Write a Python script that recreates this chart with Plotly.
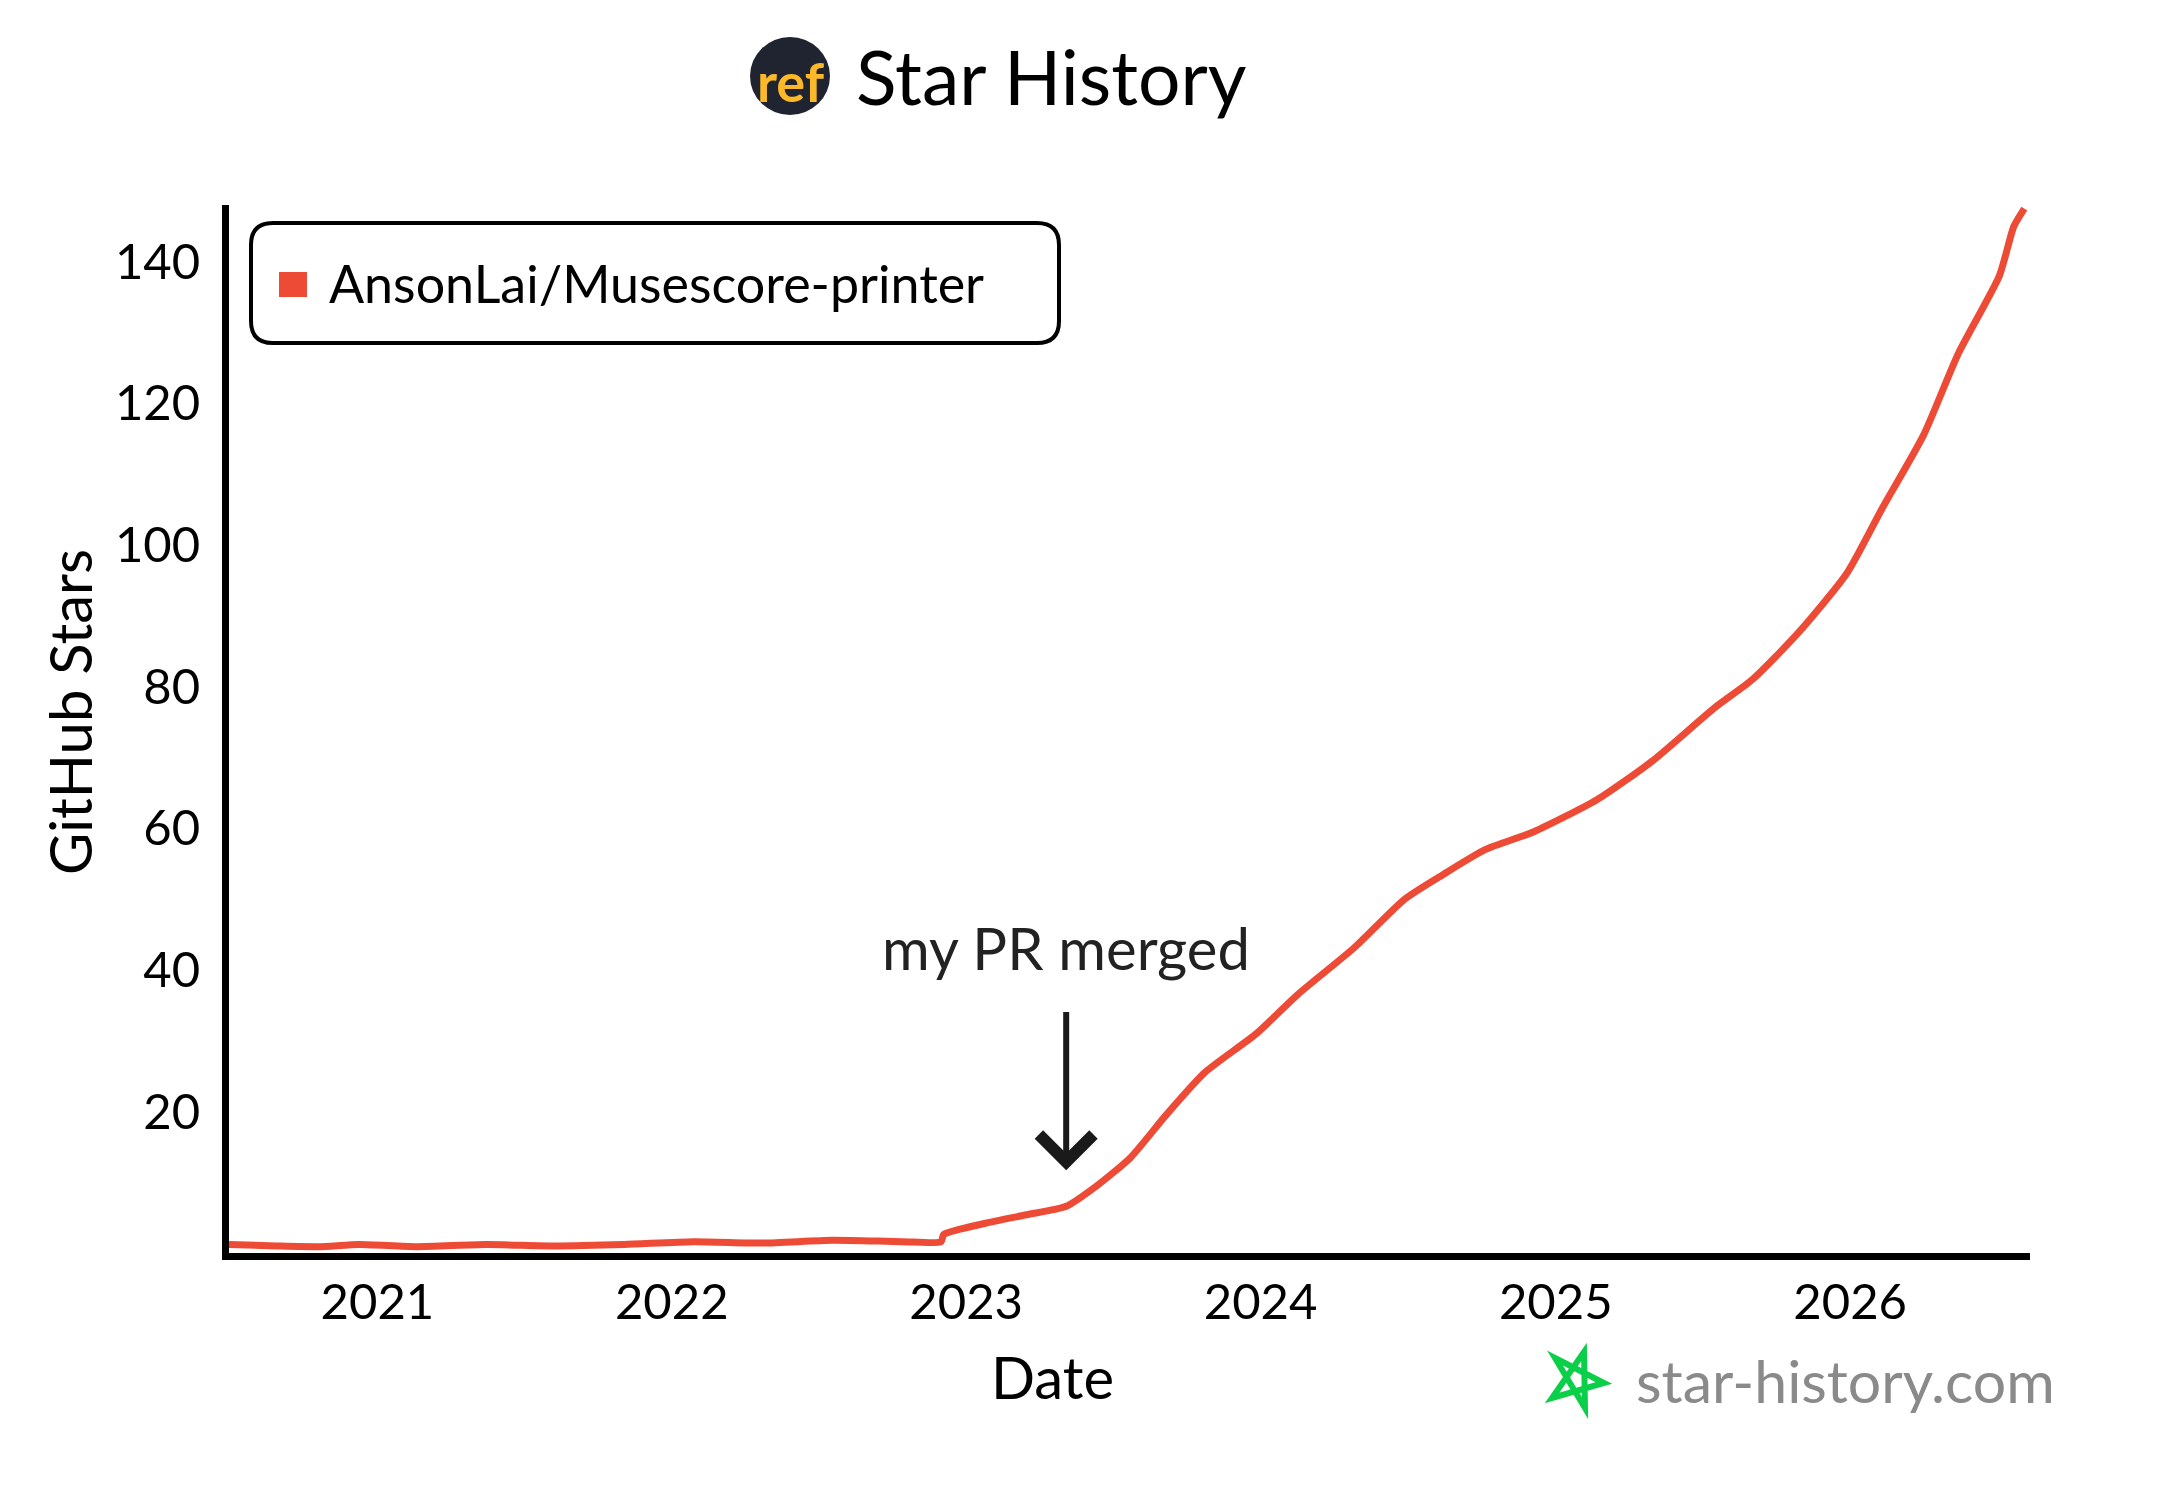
# -*- coding: utf-8 -*-
import plotly.graph_objects as go

# star history
dates = ['2020-07-01', '2020-08-29', '2020-10-20', '2020-12-10', '2021-02-18', '2021-05-15',
         '2021-08-08', '2021-11-03', '2022-01-28', '2022-04-25', '2022-07-19', '2022-10-13',
         '2022-12-01', '2022-12-04', '2023-01-25', '2023-03-17', '2023-05-05', '2023-06-12',
         '2023-07-24', '2023-09-06', '2023-10-24', '2023-12-27', '2024-02-16', '2024-04-25',
         '2024-06-28', '2024-08-15', '2024-10-06', '2024-12-05', '2025-02-21', '2025-05-01',
         '2025-07-17', '2025-09-02', '2025-10-28', '2025-12-28', '2026-02-09', '2026-04-02',
         '2026-05-15', '2026-07-05', '2026-07-23', '2026-08-05']
stars = [1.2, 1.0, 0.9, 1.2, 0.9, 1.2,
         1.0, 1.2, 1.6, 1.4, 1.8, 1.6,
         1.6, 2.6, 4.2, 5.4, 6.6, 9.5,
         13.5, 19.5, 25.5, 31, 36.5, 43,
         50, 53.5, 57, 59.5, 64, 69.5,
         77, 81, 87.5, 96, 105, 115.5,
         127, 138, 145, 147.5]
repo = 'AnsonLai/Musescore-printer'
y_ticks = [20, 40, 60, 80, 100, 120, 140]
x_ticks = ['2021-01-01', '2022-01-01', '2023-01-01', '2024-01-01', '2025-01-01', '2026-01-01']
x_labels = ['2021', '2022', '2023', '2024', '2025', '2026']
pr_date = '2023-05-05'

FONT = 'Lato'
# the page has an 8px body margin, so the figure is a bit smaller than the window
W, H = 2164, 1496
OFF = 8
L, R, T, B = 229, 2030, 205, 1253


def px(x):
    return (x - L) / (R - L)


def py(y):
    return (B - y) / (B - T)


def label(x, y, text, size, color='black', **kw):
    return dict(xref='paper', yref='paper', x=px(x), y=py(y), text=text, showarrow=False,
                xanchor='center', yanchor='middle', font=dict(family=FONT, size=size, color=color), **kw)


fig = go.Figure()
fig.add_trace(go.Scatter(x=dates, y=stars, mode='lines', showlegend=False,
                         line=dict(color='#ee4b36', width=7, shape='spline', smoothing=0.6)))
# only there for the legend entry, the swatch itself is capped in size so a rect sits on it
fig.add_trace(go.Scatter(x=[None], y=[None], mode='markers', name=repo,
                         marker=dict(color='#ee4b36', symbol='square', size=16)))

shapes = [
    # legend box
    dict(type='path', xref='paper', yref='paper', line=dict(color='black', width=4),
         path='M {} {} Q {} {} {} {} L {} {} Q {} {} {} {} L {} {} Q {} {} {} {} L {} {} Q {} {} {} {} Z'.format(
             px(273), py(223), px(251), py(223), px(251), py(245),
             px(251), py(321), px(251), py(343), px(273), py(343),
             px(1037), py(343), px(1059), py(343), px(1059), py(321),
             px(1059), py(245), px(1059), py(223), px(1037), py(223))),
    # legend swatch
    dict(type='rect', xref='paper', yref='paper', fillcolor='#ee4b36', line=dict(width=0),
         x0=px(279), x1=px(307), y0=py(297), y1=py(272)),
    # logo circle
    dict(type='circle', xref='paper', yref='paper', fillcolor='#1f2430', line=dict(width=0),
         x0=px(750), x1=px(830), y0=py(115), y1=py(37)),
    # green star
    dict(type='path', xref='paper', yref='paper', line=dict(color='#0ccf49', width=6),
         path='M {} {} L {} {} L {} {} L {} {} L {} {} Z'.format(
             px(1584), py(1352), px(1552), py(1398), px(1604), py(1383),
             px(1555), py(1358), px(1585), py(1408))),
]

annotations = [
    label(1051, 76, 'Star History', 75),
    label(791, 82, '<b>ref</b>', 54, '#fbb829'),
    label(1845, 1380, 'star-history.com', 59, '#8a8a8a'),
    label(1052, 1376, 'Date', 58),
    label(69, 712, 'GitHub Stars', 58, textangle=-90),
    dict(x=pr_date, y=11.7, ax=pr_date, ay=43.2, axref='x', ayref='y', text='my PR merged',
         showarrow=True, arrowhead=4, arrowsize=1.75, arrowwidth=6, arrowcolor='#1a1a1a', startstandoff=29,
         font=dict(family=FONT, size=58, color='#222222')),
]

fig.update_layout(
    width=W, height=H, margin=dict(l=L - OFF, r=W - (R - OFF), t=T - OFF, b=H - (B - OFF)),
    paper_bgcolor='white', plot_bgcolor='white',
    font=dict(family=FONT, color='black'),
    shapes=shapes, annotations=annotations,
    legend=dict(x=px(257), y=py(283), xanchor='left', yanchor='middle', bgcolor='rgba(0,0,0,0)',
                itemwidth=62, font=dict(family=FONT, size=52)),
    xaxis=dict(range=['2020-07-01', '2026-08-12'], tickvals=x_ticks, ticktext=x_labels,
               showgrid=False, zeroline=False, showline=True, linecolor='black', linewidth=7,
               ticks='', tickfont=dict(size=49)),
    yaxis=dict(range=[0, 148], tickvals=y_ticks, showgrid=False, zeroline=False, showline=True,
               linecolor='black', linewidth=7, ticks='outside', tickcolor='rgba(0,0,0,0)', ticklen=12,
               tickfont=dict(size=49)),
)

fig.write_html("out.html")
